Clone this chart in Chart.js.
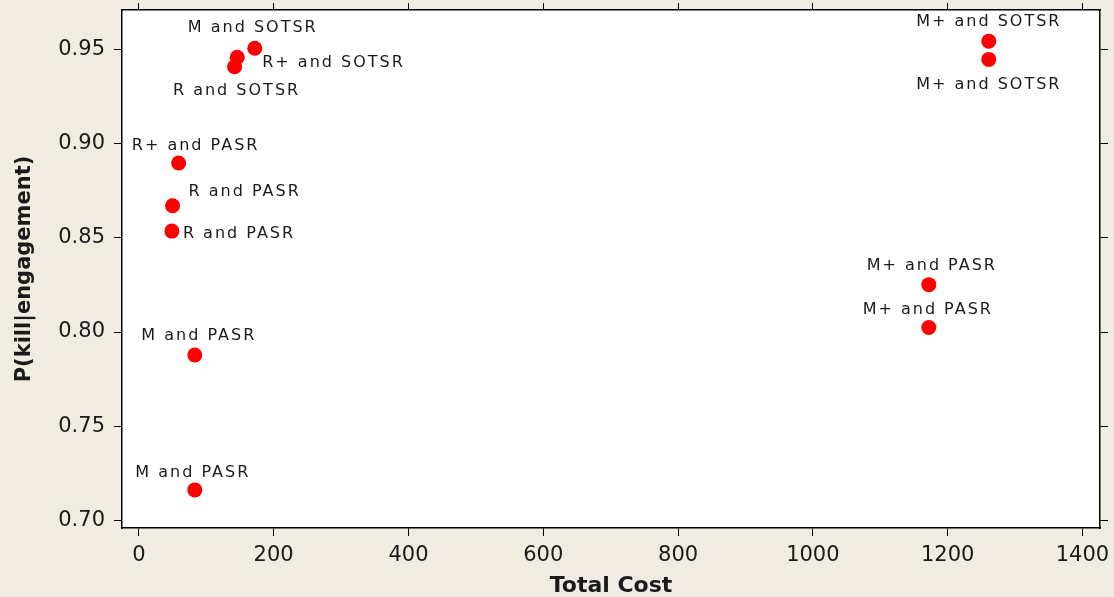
<!DOCTYPE html>
<html>
<head>
<meta charset="utf-8">
<title>P(kill|engagement) vs Total Cost</title>
<script src="https://cdn.jsdelivr.net/npm/chart.js@4/dist/chart.umd.min.js"></script>
<style>
  html, body { margin: 0; padding: 0; background: #f0ece1; }
  canvas { display: block; }
</style>
</head>
<body>
<canvas id="c" width="1114" height="597"></canvas>
<script>
// Sensor / weapon combinations
const combos = [
  'M and SOTSR', 'R+ and SOTSR', 'R and SOTSR',
  'R+ and PASR', 'R and PASR', 'R and PASR',
  'M and PASR', 'M and PASR',
  'M+ and SOTSR', 'M+ and SOTSR',
  'M+ and PASR', 'M+ and PASR'
];
// Total cost of each combination
const totalCost = [172, 146, 142, 59, 50, 49, 83, 83, 1261, 1261, 1172, 1172];
// Probability of kill given an engagement
const pKill = [0.9504, 0.9456, 0.9406, 0.8896, 0.8669, 0.8535, 0.7878, 0.7163, 0.9542, 0.9445, 0.8251, 0.8024];

// Axis tick values
const xTicks = [0, 200, 400, 600, 800, 1000, 1200, 1400];
const yTicks = [0.70, 0.75, 0.80, 0.85, 0.90, 0.95];

// Where each point label sits relative to its marker: [dx, dy, align]
const labelPlacement = [
  [-3, -20, 'center'], [25, 5, 'left'], [1, 24, 'center'],
  [16, -17, 'center'], [16, -14, 'left'], [11, 3, 'left'],
  [3, -19, 'center'], [-3, -17, 'center'],
  [-1, -19, 'center'], [-1, 25, 'center'],
  [2, -19, 'center'], [-2, -18, 'center']
];

const points = totalCost.map((x, i) => ({ x: x, y: pKill[i] }));

const backdrop = {
  id: 'backdrop',
  beforeDraw(chart) {
    const { ctx, chartArea: a } = chart;
    ctx.save();
    ctx.fillStyle = '#f0ece1';
    ctx.fillRect(0, 0, chart.width, chart.height);
    ctx.fillStyle = '#ffffff';
    ctx.fillRect(a.left, a.top, a.right - a.left, a.bottom - a.top);
    ctx.restore();
  }
};

const pointLabels = {
  id: 'pointLabels',
  afterDatasetsDraw(chart) {
    const { ctx } = chart;
    const meta = chart.getDatasetMeta(0);
    ctx.save();
    ctx.font = '16px "DejaVu Sans"';
    ctx.fillStyle = '#1a1a1a';
    ctx.textBaseline = 'middle';
    if ('letterSpacing' in ctx) ctx.letterSpacing = '2px';
    meta.data.forEach((el, i) => {
      const [dx, dy, align] = labelPlacement[i];
      ctx.textAlign = align;
      ctx.fillText(combos[i], el.x + dx + (align === 'center' ? 1 : 0), el.y + dy);
    });
    ctx.restore();
  }
};

const tickFont = { family: 'DejaVu Sans', size: 21 };
const fixTicks = values => scale => { scale.ticks = values.map(v => ({ value: v })); };
// Fixed box sizes for each axis, with no extra edge padding for end labels
const fitBox = (w, h) => s => {
  if (w !== null) s.width = w;
  if (h !== null) s.height = h;
  s.paddingLeft = 0; s.paddingRight = 0; s.paddingTop = 0; s.paddingBottom = 0;
};
const markGrid = len => ({
  display: true, drawOnChartArea: false, drawTicks: true,
  tickLength: len, color: '#000', lineWidth: 1
});
const frame = { display: true, color: '#000', width: 1.5 };

new Chart(document.getElementById('c'), {
  type: 'scatter',
  data: {
    datasets: [{
      data: points,
      backgroundColor: '#ff0000',
      borderWidth: 0,
      pointRadius: 7.5,
      pointHoverRadius: 7.5
    }]
  },
  options: {
    responsive: false,
    animation: false,
    devicePixelRatio: 1,
    layout: { padding: 0 },
    plugins: { legend: { display: false }, tooltip: { enabled: false } },
    scales: {
      x: {
        type: 'linear', position: 'bottom', min: -25, max: 1426,
        afterBuildTicks: fixTicks(xTicks),
        afterFit: fitBox(null, 69),
        grid: markGrid(8), border: frame,
        ticks: { font: tickFont, color: '#1a1a1a', padding: 7, maxRotation: 0,
                 callback: v => String(v) },
        title: { display: true, text: 'Total Cost', color: '#1a1a1a',
                 font: { family: 'DejaVu Sans', size: 22, weight: 'bold', lineHeight: 1 },
                 padding: { top: 0, bottom: 0 } }
      },
      xTop: {
        type: 'linear', position: 'top', min: -25, max: 1426,
        afterBuildTicks: fixTicks(xTicks),
        afterFit: fitBox(null, 10),
        grid: markGrid(7), border: frame,
        ticks: { display: false }
      },
      y: {
        type: 'linear', position: 'left', min: 0.6961, max: 0.9707,
        afterBuildTicks: fixTicks(yTicks),
        afterFit: fitBox(122, null),
        grid: markGrid(8), border: frame,
        ticks: { font: tickFont, color: '#1a1a1a', padding: 9,
                 callback: v => Number(v).toFixed(2) },
        title: { display: true, text: 'P(kill|engagement)', color: '#1a1a1a',
                 font: { family: 'DejaVu Sans', size: 21, weight: 'bold', lineHeight: 1 },
                 padding: { top: 14, bottom: 0 } }
      },
      yRight: {
        type: 'linear', position: 'right', min: 0.6961, max: 0.9707,
        afterBuildTicks: fixTicks(yTicks),
        afterFit: fitBox(14, null),
        grid: markGrid(8), border: frame,
        ticks: { display: false }
      }
    }
  },
  plugins: [backdrop, pointLabels]
});
</script>
</body>
</html>
